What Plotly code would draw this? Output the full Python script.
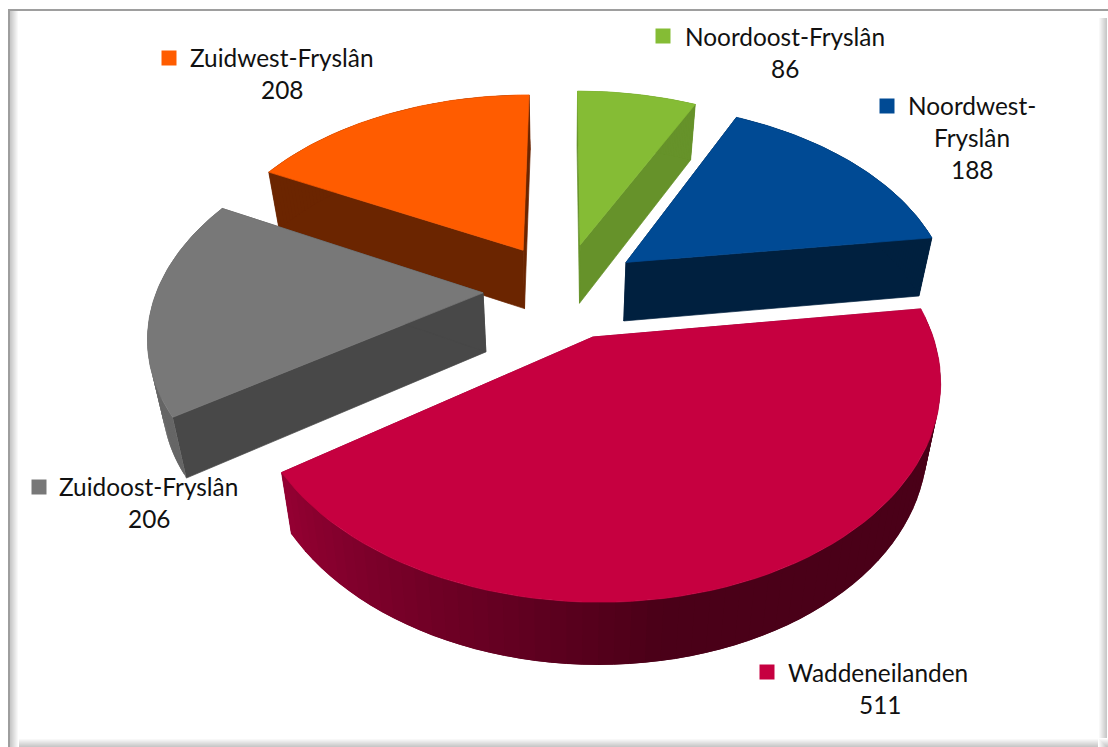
import numpy as np
import plotly.graph_objects as go

# ---- data ----
names = ["Noordoost-Fryslân", "Noordwest-Fryslân", "Waddeneilanden", "Zuidoost-Fryslân", "Zuidwest-Fryslân"]
values = [86, 188, 511, 206, 208]
label_lines = [["Noordoost-Fryslân"], ["Noordwest-", "Fryslân"], ["Waddeneilanden"], ["Zuidoost-Fryslân"], ["Zuidwest-Fryslân"]]

# ---- style / layout ----
top_colors = ["#85BC35", "#004A94", "#C60040", "#787878", "#FF5C00"]
wall_colors = ["#66922A", "#00203F", "#8A0030", "#484848", "#6B2500"]
outer_colors = ["#66922A", "#00203F", "#8A0030", "#666666", "#6B2500"]
draw_order = [4, 0, 1, 3, 2]
key_xy = [(663, 36), (887, 106), (767, 672), (39, 487), (169, 58)]
label_x = [(682.5, 785), (905.5, 972), (785.5, 880), (56.5, 149), (187.5, 282)]
label_y = [36.5, 105.5, 672.5, 486.5, 57.5]
LINE_H = 32
FONT = "Lato"
FS = 24.4

W, H = 1108, 747
CX, CY = 563, 290
RX, RY = 326, 197
EXPL = 0.245
PERSP = 0.183
SHRINK = 0.965


def project(X, Y):
    s = 1 / (1 + PERSP * Y)
    return CX + RX * X * s, CY - RY * Y * s


def bottom(x, y, Y):
    return CX + (x - CX) * SHRINK, y + 59 - 3 * Y


def pt(theta, r, ox, oy):
    X = ox + r * np.sin(theta)
    Y = oy + r * np.cos(theta)
    x, y = project(X, Y)
    bx, by = bottom(x, y, Y)
    return x, y, bx, by


def poly(xs, ys, color, lw=0.7):
    return go.Scatter(x=list(xs) + [xs[0]], y=list(ys) + [ys[0]], mode="lines", fill="toself",
                      fillcolor=color, line=dict(color=color, width=lw), hoverinfo="skip", showlegend=False)


def lerp_color(a, b, t):
    return "rgb(%d,%d,%d)" % tuple(int(round(a[i] + (b[i] - a[i]) * t)) for i in range(3))


fig = go.Figure()
total = sum(values)
edges = np.concatenate([[0], np.cumsum(values)]) / total * 2 * np.pi

for i in draw_order:
    a0, a1 = edges[i], edges[i + 1]
    mid = (a0 + a1) / 2
    ox, oy = EXPL * np.sin(mid), EXPL * np.cos(mid)
    th = np.linspace(a0, a1, 70)
    # radial walls
    ax, ay, abx, aby = pt(0, 0, ox, oy)
    for ang in (a0, a1):
        x, y, bx, by = pt(ang, 1, ox, oy)
        fig.add_trace(poly([ax, x, bx, abx], [ay, y, by, aby], wall_colors[i]))
    # outer wall, shaded strip by strip; each strip overlaps the next to hide seams
    for j in range(len(th) - 1):
        k = min(j + 2, len(th) - 1)
        x0, y0, bx0, by0 = pt(th[j], 1, ox, oy)
        x1, y1, bx1, by1 = pt(th[k], 1, ox, oy)
        if i == 2:
            # dark plateau on the right, lightening towards the left end
            t = np.clip((a1 - th[j]) / (a1 - np.radians(170)), 0, 1)
            col = lerp_color((0x96, 0x00, 0x33), (0x4A, 0x00, 0x18), t)
        else:
            col = outer_colors[i]
        fig.add_trace(poly([x0, x1, bx1, bx0], [y0, y1, by1, by0], col, lw=0))
    # top face
    X = ox + np.sin(th)
    Y = oy + np.cos(th)
    px, py = project(X, Y)
    fig.add_trace(poly([ax] + list(px), [ay] + list(py), top_colors[i]))

# legend keys as markers
for i in range(len(values)):
    fig.add_trace(go.Scatter(x=[key_xy[i][0]], y=[key_xy[i][1]], mode="markers",
                             marker=dict(symbol="square", size=15, color=top_colors[i]),
                             hoverinfo="skip", showlegend=False))

# labels
ann = []
for i in range(len(values)):
    first = label_lines[i][0]
    ann.append(dict(x=label_x[i][0], y=label_y[i], text=first, xanchor="left", yanchor="middle", showarrow=False))
    row = 1
    for extra in label_lines[i][1:]:
        ann.append(dict(x=label_x[i][1], y=label_y[i] + LINE_H * row, text=extra, xanchor="center", yanchor="middle", showarrow=False))
        row += 1
    ann.append(dict(x=label_x[i][1], y=label_y[i] + LINE_H * row, text=str(values[i]), xanchor="center", yanchor="middle", showarrow=False))

# frame: grey top and left rules, soft shadow strips inside left, right and bottom
shapes = []


def rect(x0, x1, y0, y1, c):
    shapes.append(dict(type="rect", xref="x", yref="y", x0=x0, x1=x1, y0=y0, y1=y1, fillcolor=c, line_width=0, layer="below"))


for k in range(9):
    g = 200 + int(55 * (k / 8))
    c = "rgb(%d,%d,%d)" % (g, g, g)
    rect(10 + k, 11 + k, 11, H, c)                 # left shadow
    rect(W - 1 - k - 1, W - k - 1, 18, H, c)       # right shadow
    rect(18, W, H - 1 - k, H - k, c)               # bottom shadow
rect(8, W, 9, 11, "#9E9E9E")
rect(8, 10, 9, H, "#9E9E9E")

fig.update_layout(
    width=W, height=H, margin=dict(l=0, r=0, t=0, b=0), paper_bgcolor="white", plot_bgcolor="white",
    xaxis=dict(range=[0, W], visible=False, fixedrange=True),
    yaxis=dict(range=[H, 0], visible=False, fixedrange=True),
    font=dict(family=FONT, size=FS, color="#111111"),
    annotations=ann, shapes=shapes, showlegend=False,
)
fig.write_html("out.html", config={"displayModeBar": False},
               post_script="document.body.style.margin='0';document.documentElement.style.overflow='hidden';")
